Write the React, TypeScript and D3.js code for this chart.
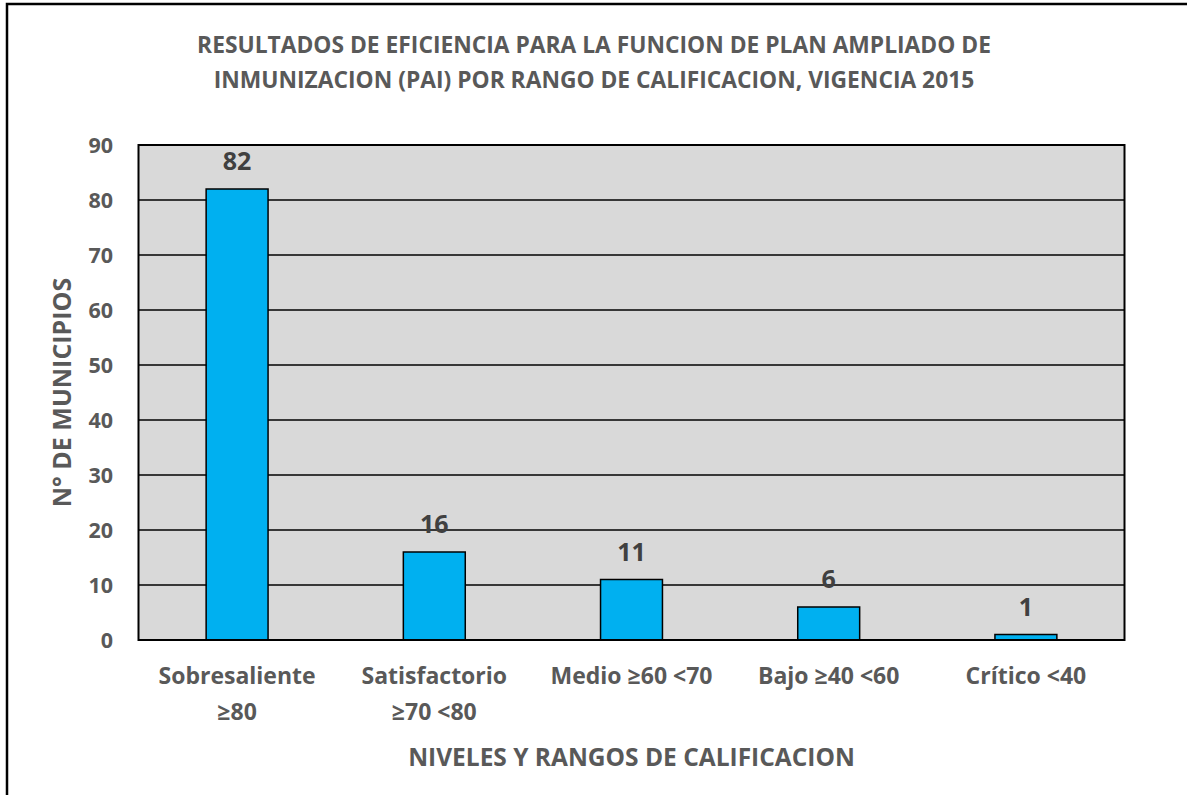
import React from "react";
import * as d3 from "d3";

const categories: string[][] = [
  ["Sobresaliente", "≥80"],
  ["Satisfactorio", "≥70 <80"],
  ["Medio ≥60 <70"],
  ["Bajo ≥40 <60"],
  ["Crítico <40"],
];
const values: number[] = [82, 16, 11, 6, 1];
const yTicks: number[] = [0, 10, 20, 30, 40, 50, 60, 70, 80, 90];
const titleLines: string[] = [
  "RESULTADOS DE EFICIENCIA PARA LA FUNCION DE PLAN AMPLIADO DE",
  "INMUNIZACION (PAI) POR RANGO DE CALIFICACION, VIGENCIA 2015",
];
const yTitle = "N° DE MUNICIPIOS";
const xTitle = "NIVELES Y RANGOS DE CALIFICACION";

const W = 1187;
const H = 795;
const plot = { left: 138.5, right: 1124.5, top: 145, bottom: 640 };
const FONT = "'Open Sans', sans-serif";

export default function App() {
  const idx = categories.map((_, i) => String(i));
  const x = d3.scaleBand<string>().domain(idx).range([plot.left, plot.right]).paddingInner(0.686).paddingOuter(0.343);
  const y = d3.scaleLinear().domain([0, 90]).range([plot.bottom, plot.top]);
  const cx = (plot.left + plot.right) / 2;

  return (
    <svg width={W} height={H} style={{ position: "absolute", left: 0, top: 0, background: "#fff" }} fontFamily={FONT}>
      <rect x={0} y={0} width={W} height={H} fill="#fff" />
      <path d={`M7,${H + 5} L7,4 L${W + 5},4`} fill="none" stroke="#000" strokeWidth={2.5} />
      {titleLines.map((t, i) => (
        <text key={i} x={594} y={44.5 + i * 35} dy="0.36em" textAnchor="middle" fontSize={22.8} fontWeight={700} fill="#595959">
          {t}
        </text>
      ))}
      <rect x={plot.left} y={plot.top} width={plot.right - plot.left} height={plot.bottom - plot.top} fill="#d9d9d9" />
      {yTicks.map((t) => (
        <g key={t}>
          {t > 0 && t < 90 && (
            <line x1={plot.left} x2={plot.right} y1={y(t)} y2={y(t)} stroke="#000" strokeWidth={1.3} />
          )}
          <text x={113} y={y(t)} dy="0.36em" textAnchor="end" fontSize={21.5} fontWeight={700} fill="#595959">
            {t}
          </text>
        </g>
      ))}
      {values.map((v, i) => (
        <g key={i}>
          <rect
            x={x(String(i))!}
            y={y(v)}
            width={x.bandwidth()}
            height={plot.bottom - y(v)}
            fill="#00b0f0"
            stroke="#000"
            strokeWidth={1.5}
          />
          <text
            x={x(String(i))! + x.bandwidth() / 2}
            y={y(v) - 28}
            dy="0.36em"
            textAnchor="middle"
            fontSize={25}
            fontWeight={700}
            fill="#404040"
          >
            {v}
          </text>
        </g>
      ))}
      <rect
        x={plot.left}
        y={plot.top}
        width={plot.right - plot.left}
        height={plot.bottom - plot.top}
        fill="none"
        stroke="#000"
        strokeWidth={2}
      />
      {categories.map((lines, i) => (
        <text
          key={i}
          x={x(String(i))! + x.bandwidth() / 2}
          y={676}
          textAnchor="middle"
          fontSize={23}
          fontWeight={700}
          fill="#595959"
        >
          {lines.map((l, j) => (
            <tspan key={j} x={x(String(i))! + x.bandwidth() / 2} dy={j === 0 ? "0.36em" : 36}>
              {l}
            </tspan>
          ))}
        </text>
      ))}
      <text x={cx} y={757} dy="0.36em" textAnchor="middle" fontSize={24.5} fontWeight={700} fill="#595959">
        {xTitle}
      </text>
      <text
        transform={`translate(62,${(plot.top + plot.bottom) / 2}) rotate(-90)`}
        textAnchor="middle"
        dy="0.36em"
        fontSize={25}
        fontWeight={700}
        fill="#595959"
      >
        {yTitle}
      </text>
    </svg>
  );
}
